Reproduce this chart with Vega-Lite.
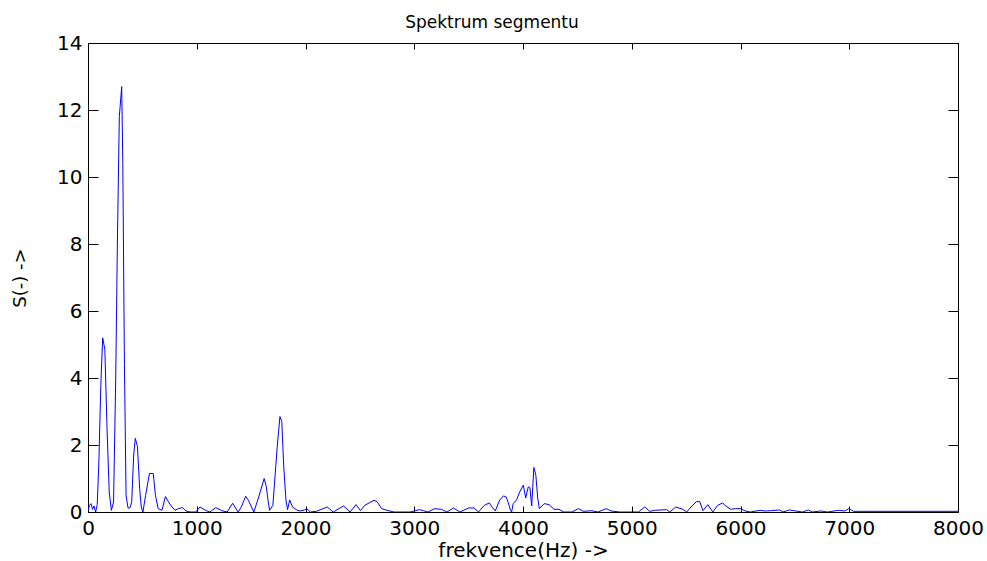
{
  "$schema": "https://vega.github.io/schema/vega-lite/v6.json",
  "width": 870,
  "height": 469,
  "autosize": "none",
  "padding": {"left": 88, "top": 43, "right": 29, "bottom": 49},
  "background": "white",
  "config": {
    "view": {"stroke": "black", "strokeWidth": 1},
    "font": "DejaVu Sans"
  },
  "title": {
    "text": "Spektrum segmentu",
    "font": "DejaVu Sans",
    "fontSize": 17,
    "fontWeight": "normal",
    "color": "black",
    "anchor": "middle",
    "dx": -31,
    "offset": 1
  },
  "data": {
    "values": [
      {"f": 0, "s": 0.05}, {"f": 15, "s": 0.2}, {"f": 28, "s": 0.25}, {"f": 42, "s": 0.08},
      {"f": 55, "s": 0.18}, {"f": 70, "s": 0.0}, {"f": 85, "s": 0.22}, {"f": 100, "s": 1.5},
      {"f": 118, "s": 3.8}, {"f": 135, "s": 5.2}, {"f": 155, "s": 4.85}, {"f": 175, "s": 2.5},
      {"f": 195, "s": 0.6}, {"f": 215, "s": 0.05}, {"f": 235, "s": 0.3}, {"f": 255, "s": 4.0},
      {"f": 270, "s": 8.0}, {"f": 288, "s": 11.8}, {"f": 310, "s": 12.7}, {"f": 320, "s": 10.4},
      {"f": 335, "s": 4.4}, {"f": 350, "s": 0.5}, {"f": 368, "s": 0.12}, {"f": 385, "s": 0.12},
      {"f": 402, "s": 0.3}, {"f": 420, "s": 1.7}, {"f": 435, "s": 2.2}, {"f": 455, "s": 1.95},
      {"f": 475, "s": 0.7}, {"f": 490, "s": 0.15}, {"f": 505, "s": 0.0}, {"f": 530, "s": 0.5},
      {"f": 565, "s": 1.15}, {"f": 600, "s": 1.15}, {"f": 620, "s": 0.5}, {"f": 645, "s": 0.1},
      {"f": 680, "s": 0.05}, {"f": 712, "s": 0.46}, {"f": 735, "s": 0.33}, {"f": 765, "s": 0.18},
      {"f": 800, "s": 0.05}, {"f": 830, "s": 0.1}, {"f": 870, "s": 0.13}, {"f": 900, "s": 0.03},
      {"f": 940, "s": 0.0}, {"f": 990, "s": 0.0}, {"f": 1030, "s": 0.15}, {"f": 1080, "s": 0.05},
      {"f": 1120, "s": 0.0}, {"f": 1175, "s": 0.13}, {"f": 1230, "s": 0.04}, {"f": 1280, "s": 0.0},
      {"f": 1330, "s": 0.26}, {"f": 1380, "s": 0.0}, {"f": 1410, "s": 0.15}, {"f": 1450, "s": 0.47},
      {"f": 1475, "s": 0.35}, {"f": 1525, "s": 0.0}, {"f": 1570, "s": 0.45}, {"f": 1620, "s": 1.0},
      {"f": 1640, "s": 0.75}, {"f": 1655, "s": 0.36}, {"f": 1670, "s": 0.05}, {"f": 1700, "s": 0.2},
      {"f": 1740, "s": 1.95}, {"f": 1765, "s": 2.85}, {"f": 1782, "s": 2.7}, {"f": 1800, "s": 1.35},
      {"f": 1820, "s": 0.36}, {"f": 1835, "s": 0.07}, {"f": 1855, "s": 0.36}, {"f": 1880, "s": 0.15},
      {"f": 1920, "s": 0.06}, {"f": 1950, "s": 0.03}, {"f": 1990, "s": 0.06}, {"f": 2010, "s": 0.1},
      {"f": 2045, "s": 0.0}, {"f": 2100, "s": 0.02}, {"f": 2200, "s": 0.15}, {"f": 2255, "s": 0.0},
      {"f": 2350, "s": 0.18}, {"f": 2410, "s": 0.0}, {"f": 2465, "s": 0.22}, {"f": 2505, "s": 0.04},
      {"f": 2545, "s": 0.2}, {"f": 2630, "s": 0.35}, {"f": 2660, "s": 0.3}, {"f": 2700, "s": 0.1},
      {"f": 2750, "s": 0.05}, {"f": 2815, "s": 0.0}, {"f": 2960, "s": 0.0}, {"f": 3050, "s": 0.07},
      {"f": 3085, "s": 0.04}, {"f": 3125, "s": 0.0}, {"f": 3190, "s": 0.1}, {"f": 3250, "s": 0.08},
      {"f": 3300, "s": 0.0}, {"f": 3360, "s": 0.12}, {"f": 3420, "s": 0.0}, {"f": 3500, "s": 0.12},
      {"f": 3550, "s": 0.12}, {"f": 3590, "s": 0.0}, {"f": 3645, "s": 0.2}, {"f": 3690, "s": 0.27},
      {"f": 3715, "s": 0.15}, {"f": 3745, "s": 0.03}, {"f": 3785, "s": 0.35}, {"f": 3820, "s": 0.48},
      {"f": 3845, "s": 0.45}, {"f": 3865, "s": 0.27}, {"f": 3885, "s": 0.05}, {"f": 3895, "s": 0.0},
      {"f": 3910, "s": 0.25}, {"f": 3940, "s": 0.36}, {"f": 3970, "s": 0.6}, {"f": 4003, "s": 0.8},
      {"f": 4025, "s": 0.42}, {"f": 4048, "s": 0.75}, {"f": 4063, "s": 0.73}, {"f": 4080, "s": 0.18},
      {"f": 4100, "s": 1.33}, {"f": 4118, "s": 1.1}, {"f": 4135, "s": 0.42}, {"f": 4150, "s": 0.1},
      {"f": 4195, "s": 0.25}, {"f": 4240, "s": 0.22}, {"f": 4285, "s": 0.08}, {"f": 4330, "s": 0.08},
      {"f": 4375, "s": 0.0}, {"f": 4450, "s": 0.0}, {"f": 4510, "s": 0.1}, {"f": 4555, "s": 0.02},
      {"f": 4630, "s": 0.04}, {"f": 4690, "s": 0.0}, {"f": 4765, "s": 0.1}, {"f": 4810, "s": 0.03},
      {"f": 4890, "s": 0.0}, {"f": 5000, "s": 0.0}, {"f": 5060, "s": 0.0}, {"f": 5120, "s": 0.15},
      {"f": 5165, "s": 0.02}, {"f": 5210, "s": 0.05}, {"f": 5320, "s": 0.07}, {"f": 5350, "s": 0.0},
      {"f": 5405, "s": 0.15}, {"f": 5470, "s": 0.08}, {"f": 5505, "s": 0.0}, {"f": 5545, "s": 0.15},
      {"f": 5595, "s": 0.31}, {"f": 5625, "s": 0.31}, {"f": 5655, "s": 0.04}, {"f": 5700, "s": 0.22},
      {"f": 5745, "s": 0.0}, {"f": 5790, "s": 0.2}, {"f": 5835, "s": 0.27}, {"f": 5865, "s": 0.18},
      {"f": 5910, "s": 0.08}, {"f": 5955, "s": 0.1}, {"f": 6000, "s": 0.1}, {"f": 6045, "s": 0.03},
      {"f": 6090, "s": 0.0}, {"f": 6180, "s": 0.05}, {"f": 6225, "s": 0.03}, {"f": 6285, "s": 0.04},
      {"f": 6360, "s": 0.06}, {"f": 6390, "s": 0.0}, {"f": 6450, "s": 0.06}, {"f": 6510, "s": 0.03},
      {"f": 6570, "s": 0.0}, {"f": 6625, "s": 0.06}, {"f": 6660, "s": 0.0}, {"f": 6740, "s": 0.03},
      {"f": 6800, "s": 0.0}, {"f": 6900, "s": 0.05}, {"f": 6960, "s": 0.03}, {"f": 6995, "s": 0.1},
      {"f": 7010, "s": 0.08}, {"f": 7040, "s": 0.02}, {"f": 8000, "s": 0.02}
    ]
  },
  "resolve": {"axis": {"x": "independent", "y": "independent"}},
  "layer": [
    {
      "mark": {"type": "line", "color": "#0000ff", "strokeWidth": 1, "clip": true},
      "encoding": {
        "x": {
          "field": "f", "type": "quantitative",
          "scale": {"domain": [0, 8000], "nice": false, "zero": false},
          "axis": {
            "orient": "bottom",
            "title": "frekvence(Hz) ->",
            "values": [0, 1000, 2000, 3000, 4000, 5000, 6000, 7000, 8000],
            "format": "d",
            "grid": false,
            "domainColor": "black",
            "tickColor": "black",
            "tickSize": -6,
            "labelFont": "DejaVu Sans",
            "labelFontSize": 20,
            "labelColor": "black",
            "labelPadding": 12,
            "labelFlush": false,
            "titleFont": "DejaVu Sans",
            "titleFontSize": 20,
            "titleFontWeight": "normal",
            "titleColor": "black",
            "titleY": 38,
            "titleBaseline": "middle"
          }
        },
        "y": {
          "field": "s", "type": "quantitative",
          "scale": {"domain": [0, 14], "nice": false},
          "axis": {
            "orient": "left",
            "title": "S(-) ->",
            "values": [0, 2, 4, 6, 8, 10, 12, 14],
            "grid": false,
            "domainColor": "black",
            "tickColor": "black",
            "tickSize": -10,
            "labelFont": "DejaVu Sans",
            "labelFontSize": 20,
            "labelColor": "black",
            "labelPadding": 16,
            "labelFlush": false,
            "titleFont": "DejaVu Sans",
            "titleFontSize": 18,
            "titleFontWeight": "normal",
            "titleColor": "black",
            "titleAngle": 270,
            "titleX": -68,
            "titleY": 234.5,
            "titleAlign": "center",
            "titleBaseline": "middle"
          }
        }
      }
    },
    {
      "mark": {"type": "line", "opacity": 0},
      "encoding": {
        "x": {
          "field": "f", "type": "quantitative",
          "axis": {
            "orient": "top",
            "title": null,
            "values": [0, 1000, 2000, 3000, 4000, 5000, 6000, 7000, 8000],
            "labels": false,
            "grid": false,
            "domainColor": "black",
            "tickColor": "black",
            "tickSize": -6
          }
        },
        "y": {
          "field": "s", "type": "quantitative",
          "axis": {
            "orient": "right",
            "title": null,
            "values": [0, 2, 4, 6, 8, 10, 12, 14],
            "labels": false,
            "grid": false,
            "domainColor": "black",
            "tickColor": "black",
            "tickSize": -10
          }
        }
      }
    }
  ]
}
